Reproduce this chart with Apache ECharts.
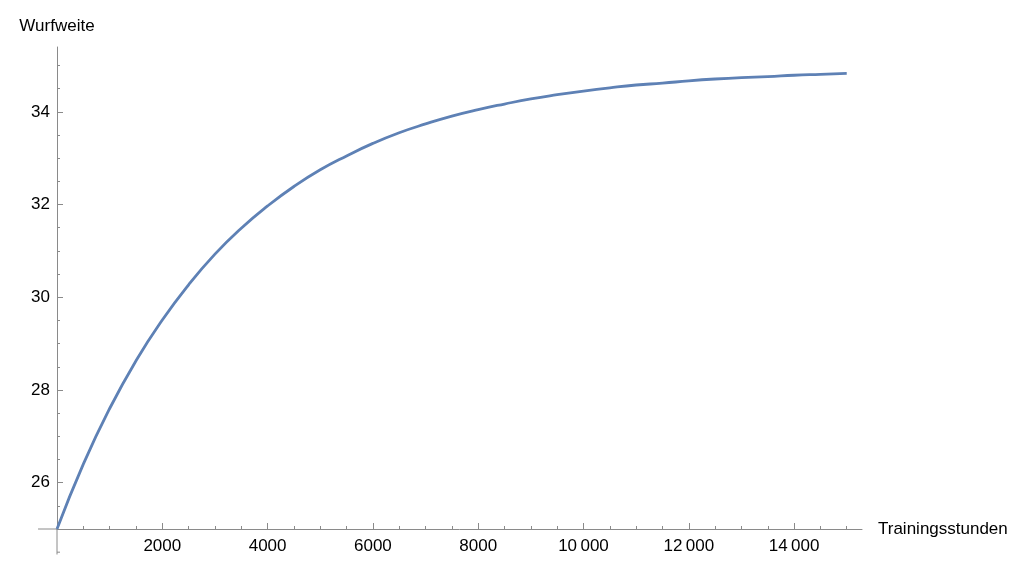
<!DOCTYPE html>
<html>
<head>
<meta charset="utf-8">
<script src="https://cdn.jsdelivr.net/npm/echarts@6/dist/echarts.min.js"></script>
<style>
html,body{margin:0;padding:0;background:#fff;}
#main{width:1024px;height:572px;}
</style>
</head>
<body>
<div id="main"></div>
<script>
// Data
const hours = [0,500,1000,1500,2000,2500,3000,3500,4000,4500,5000,5500,6000,6500,7000,7500,8000,8500,9000,9500,10000,10500,11000,11500,12000,12500,13000,13500,14000,14500,15000];
const distance = [25.00,26.40,27.60,28.63,29.51,30.27,30.93,31.49,31.97,32.39,32.75,33.05,33.32,33.55,33.74,33.91,34.05,34.17,34.28,34.37,34.45,34.52,34.58,34.62,34.67,34.71,34.74,34.76,34.79,34.81,34.83];

const xMajorTicks = [2000,4000,6000,8000,10000,12000,14000];
const xMinorTicks = [500,1000,1500,2500,3000,3500,4500,5000,5500,6500,7000,7500,8500,9000,9500,10500,11000,11500,12500,13000,13500,14500,15000];
const yMajorTicks = [26,28,30,32,34];
const yMinorTicks = [25.5,26.5,27,27.5,28.5,29,29.5,30.5,31,31.5,32.5,33,33.5,34.5,35];

const xName = 'Trainingsstunden';
const yName = 'Wurfweite';

const xMin = 0, xMax = 15290, yMin = 25, yMax = 35.4;
const xExtLeft = -360, yExtBottom = 24.45, yExtMinorTick = 24.5;

const axisColor = '#8a8a8a';
const font = "'Liberation Sans', Arial, Helvetica, sans-serif";

function fmt(v){
  if (v >= 10000) {
    const s = String(v);
    return s.slice(0, s.length-3) + '\u2009' + s.slice(s.length-3);
  }
  return String(v);
}

const chart = echarts.init(document.getElementById('main'), null, {renderer:'canvas'});

const option = {
  animation: false,
  backgroundColor: '#ffffff',
  grid: {left: 57, right: 162, top: 47, bottom: 43, containLabel: false},
  xAxis: [
    {
      type: 'value', min: xMin, max: xMax, position: 'bottom',
      name: xName, nameLocation: 'end', nameGap: 16,
      nameTextStyle: {color: '#000', fontSize: 17, fontFamily: font},
      axisLine: {show: true, onZero: false, lineStyle: {color: axisColor, width: 1}},
      axisTick: {show: true, inside: true, length: 6, customValues: xMajorTicks, lineStyle: {color: axisColor}},
      axisLabel: {show: true, customValues: xMajorTicks, formatter: fmt, margin: 9, color: '#000', fontSize: 17, fontFamily: font},
      splitLine: {show: false}
    },
    {
      type: 'value', min: xMin, max: xMax, position: 'bottom', offset: 0,
      axisLine: {show: false, onZero: false},
      axisTick: {show: true, inside: true, length: 3, customValues: xMinorTicks, lineStyle: {color: axisColor}},
      axisLabel: {show: false},
      splitLine: {show: false}
    }
  ],
  yAxis: [
    {
      type: 'value', min: yMin, max: yMax, position: 'left',
      name: yName, nameLocation: 'end', nameGap: 12,
      nameTextStyle: {color: '#000', fontSize: 17, fontFamily: font, align: 'center'},
      axisLine: {show: true, onZero: false, lineStyle: {color: axisColor, width: 1}},
      axisTick: {show: true, inside: true, length: 6, customValues: yMajorTicks, lineStyle: {color: axisColor}},
      axisLabel: {show: true, customValues: yMajorTicks, margin: 7, color: '#000', fontSize: 17, fontFamily: font},
      splitLine: {show: false}
    },
    {
      type: 'value', min: yMin, max: yMax, position: 'left', offset: 0,
      axisLine: {show: false, onZero: false},
      axisTick: {show: true, inside: true, length: 3, customValues: yMinorTicks, lineStyle: {color: axisColor}},
      axisLabel: {show: false},
      splitLine: {show: false}
    }
  ],
  series: [{
    type: 'line',
    xAxisIndex: 0, yAxisIndex: 0,
    data: hours.map((h, i) => [h, distance[i]]),
    smooth: true,
    showSymbol: false,
    lineStyle: {color: '#5e81b5', width: 2.8},
    itemStyle: {color: '#5e81b5'}
  }]
};
chart.setOption(option);

// Axis extensions beyond the origin (x axis to the left, y axis below)
const o = chart.convertToPixel({gridIndex: 0}, [0, 25]);
const l = chart.convertToPixel({gridIndex: 0}, [xExtLeft, 25]);
const b = chart.convertToPixel({gridIndex: 0}, [0, yExtBottom]);
const t = chart.convertToPixel({gridIndex: 0}, [0, yExtMinorTick]);
chart.setOption({
  graphic: [
    {type: 'line', shape: {x1: l[0], y1: o[1], x2: o[0], y2: o[1]}, style: {stroke: axisColor, lineWidth: 1}, silent: true},
    {type: 'line', shape: {x1: o[0], y1: o[1], x2: o[0], y2: b[1]}, style: {stroke: axisColor, lineWidth: 1}, silent: true},
    {type: 'line', shape: {x1: o[0], y1: t[1], x2: o[0] + 3, y2: t[1]}, style: {stroke: axisColor, lineWidth: 1}, silent: true}
  ]
});
</script>
</body>
</html>
